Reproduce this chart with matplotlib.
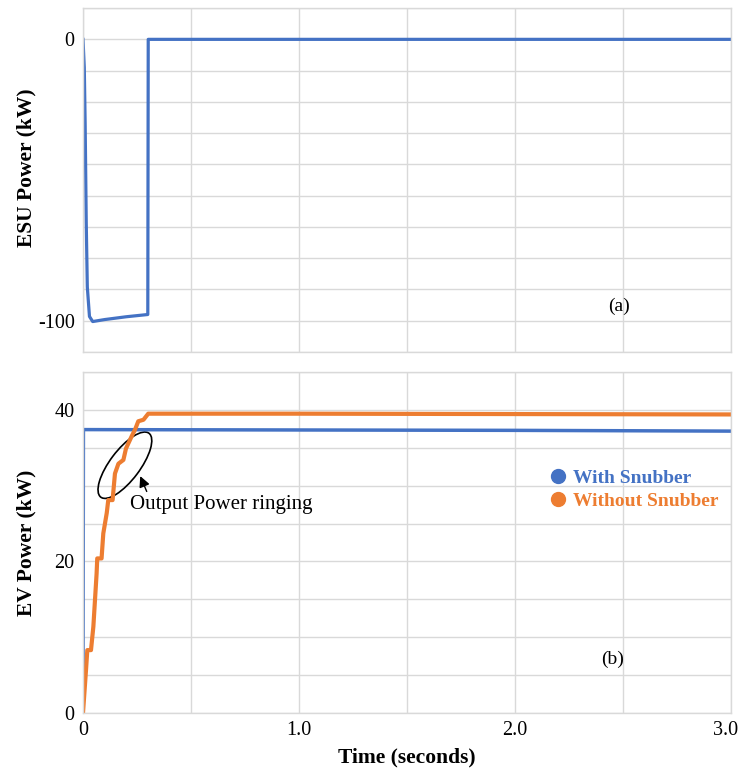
import matplotlib
matplotlib.use("Agg")
import matplotlib.pyplot as plt
from matplotlib.patches import Ellipse
from matplotlib.lines import Line2D
from matplotlib.transforms import ScaledTranslation
import numpy as np

# ESU power (a)
t_esu = [0, 0.006, 0.01, 0.015, 0.02, 0.03, 0.045, 0.1, 0.2, 0.3, 0.302, 3.0]
p_esu = [0, -10, -30, -65, -88, -98.5, -100.3, -99.6, -98.6, -97.8, 0, 0]

# EV power (b)
t_with = [0, 0.002, 1.0, 2.0, 3.0]
p_with = [0, 37.4, 37.35, 37.3, 37.2]

t_without = [0, 0.014, 0.02, 0.037, 0.048, 0.063, 0.066, 0.086, 0.094, 0.11,
             0.117, 0.137, 0.148, 0.164, 0.187, 0.199, 0.225, 0.241, 0.256,
             0.28, 0.302, 1.0, 2.0, 3.0]
p_without = [0, 5.7, 8.3, 8.3, 11.4, 18.4, 20.4, 20.4, 23.7, 26.4,
             28.1, 28.1, 31.6, 32.9, 33.4, 34.9, 36.5, 37.4, 38.5,
             38.7, 39.5, 39.5, 39.45, 39.4]

blue = "#4472C4"
orange = "#ED7D31"
grid_c = "#d9d9d9"

plt.rcParams["font.family"] = ["Liberation Serif", "DejaVu Serif"]

fig = plt.figure(figsize=(7.41, 7.71), dpi=100)
ax1 = fig.add_axes([0.112, 0.5435, 0.8745, 0.446])
ax2 = fig.add_axes([0.112, 0.0752, 0.8745, 0.4423])


def style(ax):
    ax.set_xlim(0, 3.0)
    ax.set_xticks(np.arange(0, 3.01, 0.5), minor=True)
    ax.set_xticks([0, 1, 2, 3])
    ax.grid(True, which="both", color=grid_c, linewidth=1.0)
    ax.set_axisbelow(True)
    for s in ax.spines.values():
        s.set_color(grid_c)
        s.set_linewidth(1.0)
    ax.tick_params(which="both", length=0, labelsize=14.5, pad=6)


# --- (a)
style(ax1)
ax1.plot(t_esu, p_esu, color=blue, linewidth=2.3)
step = 100 / 9
ax1.set_ylim(-100 - step, step)
ax1.set_yticks(np.arange(-100 - step, step + 0.01, step), minor=True)
ax1.set_yticks([-100, 0])
ax1.set_yticklabels(["-100", "0"])
ax1.set_xticklabels([])
ax1.set_ylabel("ESU Power (kW)", fontsize=15.5, fontweight="bold")
ax1.yaxis.set_label_coords(-0.072, 0.535)
ax1.text(0.81, 0.12, "(a)", transform=ax1.transAxes, fontsize=14)

# --- (b)
style(ax2)
ax2.plot(t_with, p_with, color=blue, linewidth=2.5)
ax2.plot(t_without, p_without, color=orange, linewidth=3.0)
ax2.set_ylim(0, 45)
ax2.set_yticks(np.arange(0, 45.01, 5), minor=True)
ax2.set_yticks([0, 20, 40])
ax2.set_xticklabels(["0", "1.0", "2.0", "3.0"])
# keep the last label inside the figure edge
last = ax2.get_xticklabels()[-1]
last.set_transform(last.get_transform() + ScaledTranslation(-0.05, 0, fig.dpi_scale_trans))
ax2.set_ylabel("EV Power (kW)", fontsize=15.5, fontweight="bold")
ax2.yaxis.set_label_coords(-0.072, 0.5)
ax2.set_xlabel("Time (seconds)", fontsize=15.5, fontweight="bold", labelpad=5)
ax2.text(0.80, 0.145, "(b)", transform=ax2.transAxes, fontsize=14)

# ellipse around ringing
tr = fig.dpi_scale_trans + ScaledTranslation(0.194, 32.7, ax2.transData)
ax2.add_patch(Ellipse((0, 0), 0.80, 0.30, angle=53, transform=tr,
                      fill=False, edgecolor="black", linewidth=1.2))
ax2.annotate("", xy=(0.26, 31.6), xytext=(0.30, 28.9),
             arrowprops=dict(arrowstyle="-|>", color="black", lw=1.0,
                             mutation_scale=16))
ax2.text(0.218, 27.5, "Output Power ringing", fontsize=15, va="center")

handles = [Line2D([], [], marker="o", linestyle="none", color=blue, markersize=10),
           Line2D([], [], marker="o", linestyle="none", color=orange, markersize=10)]
ax2.legend(handles, ["With Snubber", "Without Snubber"], loc="center right",
           bbox_to_anchor=(1.007, 0.655), frameon=False, handletextpad=0.35,
           handlelength=0.8, labelspacing=0.3, labelcolor=[blue, orange],
           prop={"size": 14, "weight": "bold"})

fig.savefig("out.png", dpi=100)
